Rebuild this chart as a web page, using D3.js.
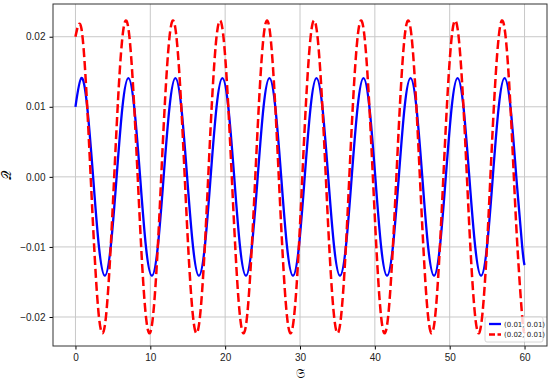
<!DOCTYPE html>
<html>
<head>
<meta charset="utf-8">
<script src="https://cdn.jsdelivr.net/npm/d3@7"></script>
<style>
body{margin:0;background:#fff;}
svg{font-family:"DejaVu Sans",sans-serif;}
.tick text{fill:#222;font-size:10px;}
</style>
</head>
<body>
<div id="chart"></div>
<script>
var margin = {top:4, right:3, bottom:37, left:53}, width = 550 - margin.left - margin.right, height = 383 - margin.top - margin.bottom;

var xs = [0, 0.79, 1.57, 2.36, 3.14, 3.93, 4.71, 5.50, 6.28, 7.07, 7.85, 8.64, 9.42, 10.21, 11.00, 11.78,
          12.57, 13.35, 14.14, 14.92, 15.71, 16.49, 17.28, 18.06, 18.85, 19.63, 20.42, 21.21, 21.99, 22.78,
          23.56, 24.35, 25.13, 25.92, 26.70, 27.49, 28.27, 29.06, 29.85, 30.63, 31.42, 32.20, 32.99, 33.77,
          34.56, 35.34, 36.13, 36.91, 37.70, 38.48, 39.27, 40.06, 40.84, 41.63, 42.41, 43.20, 43.98, 44.77,
          45.55, 46.34, 47.12, 47.91, 48.69, 49.48, 50.27, 51.05, 51.84, 52.62, 53.41, 54.19, 54.98, 55.76,
          56.55, 57.33, 58.12, 58.90, 59.69, 60]
var blueVals = [0.01, 0.0141, 0.01, 0, -0.01, -0.0141, -0.01, 0,
                0.01, 0.0141, 0.01, 0, -0.01, -0.0141, -0.01, 0,
                0.01, 0.0141, 0.01, 0, -0.01, -0.0141, -0.01, 0,
                0.01, 0.0141, 0.01, 0, -0.01, -0.0141, -0.01, 0,
                0.01, 0.0141, 0.01, 0, -0.01, -0.0141, -0.01, 0,
                0.01, 0.0141, 0.01, 0, -0.01, -0.0141, -0.01, 0,
                0.01, 0.0141, 0.01, 0, -0.01, -0.0141, -0.01, 0,
                0.01, 0.0141, 0.01, 0, -0.01, -0.0141, -0.01, 0,
                0.01, 0.0141, 0.01, 0, -0.01, -0.0141, -0.01, 0,
                0.01, 0.0141, 0.01, 0, -0.01, -0.0126]
var redVals = [0.02, 0.0212, 0.01, -0.0071, -0.02, -0.0212, -0.01, 0.0071,
               0.02, 0.0212, 0.01, -0.0071, -0.02, -0.0212, -0.01, 0.0071,
               0.02, 0.0212, 0.01, -0.0071, -0.02, -0.0212, -0.01, 0.0071,
               0.02, 0.0212, 0.01, -0.0071, -0.02, -0.0212, -0.01, 0.0071,
               0.02, 0.0212, 0.01, -0.0071, -0.02, -0.0212, -0.01, 0.0071,
               0.02, 0.0212, 0.01, -0.0071, -0.02, -0.0212, -0.01, 0.0071,
               0.02, 0.0212, 0.01, -0.0071, -0.02, -0.0212, -0.01, 0.0071,
               0.02, 0.0212, 0.01, -0.0071, -0.02, -0.0212, -0.01, 0.0071,
               0.02, 0.0212, 0.01, -0.0071, -0.02, -0.0212, -0.01, 0.0071,
               0.02, 0.0212, 0.01, -0.0071, -0.02, -0.0221]
var seriesNames = ["(0.01, 0.01)", "(0.02, 0.01)"]
var xTicks = [0, 10, 20, 30, 40, 50, 60]
var yTicks = [-0.02, -0.01, 0, 0.01, 0.02]

var svg = d3.select("#chart").append("svg")
.attr("width", width + margin.left + margin.right)
.attr("height", height + margin.top + margin.bottom)
.append("g")
.attr("transform", "translate(" + margin.left + "," + margin.top + ")");

var xScale = d3.scaleLinear().domain([-3, 63]).range([0, width])
var yScale = d3.scaleLinear().domain([-0.02414, 0.02467]).range([height, 0])

//grid
svg.append("g").selectAll("line").data(xTicks).enter().append("line")
    .attr("x1", function(d){return xScale(d)}).attr("x2", function(d){return xScale(d)})
    .attr("y1", 0).attr("y2", height)
    .style("stroke", "#c8c8c8").style("stroke-width", 1)
svg.append("g").selectAll("line").data(yTicks).enter().append("line")
    .attr("y1", function(d){return yScale(d)}).attr("y2", function(d){return yScale(d)})
    .attr("x1", 0).attr("x2", width)
    .style("stroke", "#c8c8c8").style("stroke-width", 1)

var fmt = function(d){ return d3.format(".2f")(d).replace("-", "\u2212") }

// x-axis
svg.append("g")
    .attr("transform", "translate(0," + height + ")")
    .call(d3.axisBottom(xScale).tickValues(xTicks).tickSize(3.5).tickPadding(4).tickSizeOuter(0))
svg.append("g")
    .call(d3.axisLeft(yScale).tickValues(yTicks).tickFormat(fmt).tickSize(3.5).tickPadding(4).tickSizeOuter(0))
svg.selectAll(".domain").remove()

// series
var blueData = xs.map(function(x, i){ return [x, blueVals[i]] })
var redData = xs.map(function(x, i){ return [x, redVals[i]] })
var line = d3.line().x(function(d){return xScale(d[0])}).y(function(d){return yScale(d[1])}).curve(d3.curveNatural)

svg.append("path").datum(blueData).attr("d", line)
    .style("fill", "none").style("stroke", "#0000ff").style("stroke-width", 2.3)
svg.append("path").datum(redData).attr("d", line)
    .style("fill", "none").style("stroke", "#ff0000").style("stroke-width", 2.5)
    .style("stroke-dasharray", "9,4")

// frame
svg.append("rect").attr("width", width).attr("height", height)
    .style("fill", "none").style("stroke", "#333").style("stroke-width", 1)

// labels
svg.append("text").attr("x", width / 2).attr("y", height + 32)
    .style("text-anchor", "middle").style("font-size", "13px").text("\uD835\uDD16")
svg.append("text").attr("transform", "translate(-42," + (height / 2) + ") rotate(-90)")
    .style("text-anchor", "middle").style("font-size", "13px").text("\uD835\uDCAC")

// legend
var lg = svg.append("g").attr("transform", "translate(" + (width - 62) + "," + (height - 29) + ")")
lg.append("rect").attr("width", 58).attr("height", 25).attr("rx", 2)
    .style("fill", "#fff").style("fill-opacity", 0.8).style("stroke", "#ccc").style("stroke-width", 0.8)
var colors = ["#0000ff", "#ff0000"]
seriesNames.forEach(function(name, i){
    var y = 7 + i * 10.5
    lg.append("line").attr("x1", 4).attr("x2", 16).attr("y1", y).attr("y2", y)
        .style("stroke", colors[i]).style("stroke-width", 2.3)
        .style("stroke-dasharray", i == 1 ? "6,2.5" : null)
    lg.append("text").attr("x", 19).attr("y", y + 2.5).style("font-size", "7px").style("fill", "#222").text(name)
})
</script>
</body>
</html>
